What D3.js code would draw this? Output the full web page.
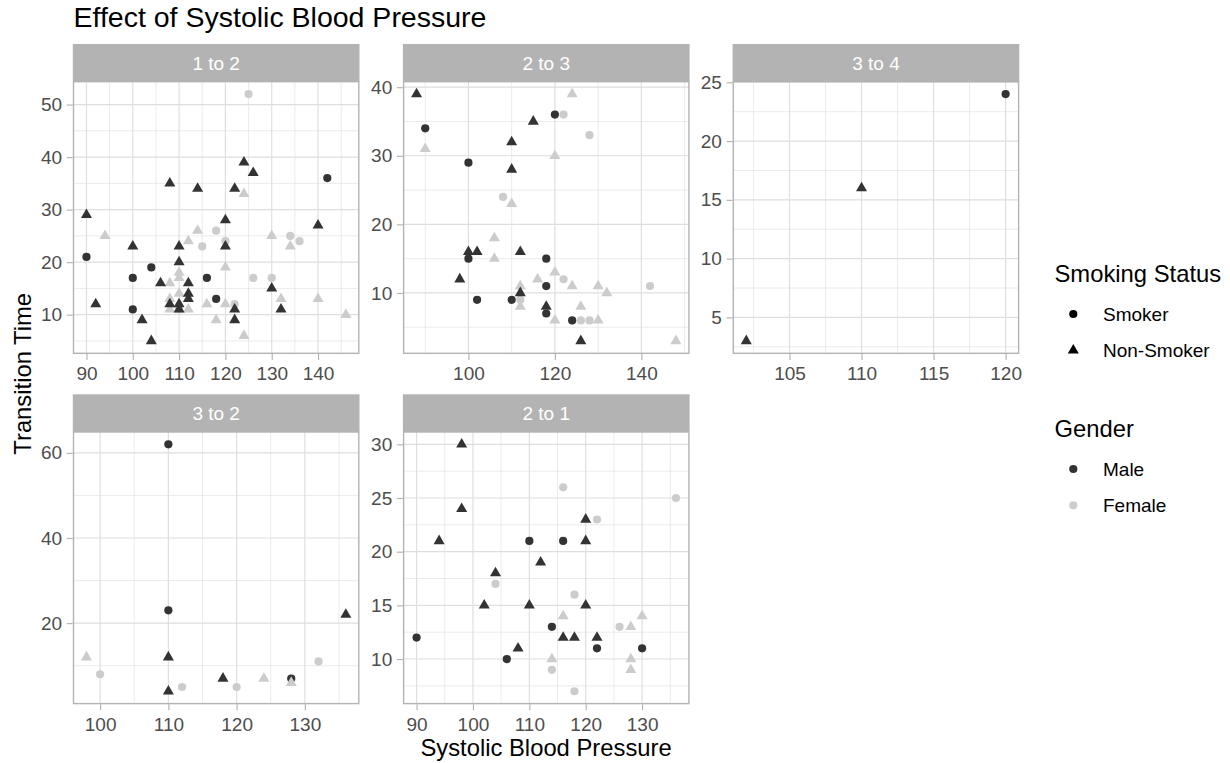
<!DOCTYPE html>
<html>
<head>
<meta charset="utf-8">
<script src="https://cdn.jsdelivr.net/npm/d3@7"></script>
<style>
    body { margin: 0; background: #fff; }
    svg text { font-family: "Liberation Sans", Arial, sans-serif; }
</style>
</head>
<body>
<div id="chart"></div>
<script>
// facet labels, in layout order
const facetNames = ["1 to 2", "2 to 3", "3 to 4", "3 to 2", "2 to 1"];

// each point: [systolic bp, transition time, gender (M/F), smoking (S = Smoker, N = Non-Smoker)]
const trans12 = [
    [94,25,"F","N"],[108,16,"F","N"],[108,13,"F","N"],[108,11,"F","N"],[110,18,"F","N"],[110,17,"F","N"],
    [110,14,"F","N"],[110,11,"F","N"],[112,24,"F","N"],[112,11,"F","N"],[114,26,"F","N"],[116,12,"F","N"],
    [118,9,"F","N"],[120,19,"F","N"],[120,12,"F","N"],[124,33,"F","N"],[124,6,"F","N"],[130,25,"F","N"],
    [132,13,"F","N"],[134,23,"F","N"],[140,13,"F","N"],[146,10,"F","N"],
    [125,52,"F","S"],[118,26,"F","S"],[115,23,"F","S"],[120,24,"F","S"],[126,17,"F","S"],[130,17,"F","S"],
    [134,25,"F","S"],[136,24,"F","S"],[122,12,"F","S"],[110,11,"F","S"],
    [90,29,"M","N"],[92,12,"M","N"],[100,23,"M","N"],[102,9,"M","N"],[104,5,"M","N"],[106,16,"M","N"],
    [108,35,"M","N"],[108,12,"M","N"],[110,23,"M","N"],[110,20,"M","N"],[110,12,"M","N"],[110,11,"M","N"],
    [112,16,"M","N"],[112,14,"M","N"],[112,13,"M","N"],[114,34,"M","N"],[120,28,"M","N"],[120,23,"M","N"],
    [122,34,"M","N"],[122,11,"M","N"],[122,9,"M","N"],[124,39,"M","N"],[126,37,"M","N"],[130,15,"M","N"],
    [132,11,"M","N"],[140,27,"M","N"],
    [90,21,"M","S"],[100,17,"M","S"],[100,11,"M","S"],[104,19,"M","S"],[116,17,"M","S"],[118,13,"M","S"],
    [142,36,"M","S"]
];

const trans23 = [
    [90,31,"F","N"],[124,39,"F","N"],[120,30,"F","N"],[110,23,"F","N"],[106,18,"F","N"],[106,15,"F","N"],
    [112,11,"F","N"],[112,8,"F","N"],[116,12,"F","N"],[120,13,"F","N"],[120,6,"F","N"],[124,11,"F","N"],
    [126,8,"F","N"],[130,11,"F","N"],[132,10,"F","N"],[130,6,"F","N"],[148,3,"F","N"],
    [122,36,"F","S"],[128,33,"F","S"],[108,24,"F","S"],[122,12,"F","S"],[112,9,"F","S"],[126,6,"F","S"],
    [128,6,"F","S"],[142,11,"F","S"],
    [88,39,"M","N"],[110,32,"M","N"],[110,28,"M","N"],[115,35,"M","N"],[100,16,"M","N"],[102,16,"M","N"],
    [112,16,"M","N"],[98,12,"M","N"],[112,10,"M","N"],[118,8,"M","N"],[126,3,"M","N"],
    [90,34,"M","S"],[100,29,"M","S"],[100,15,"M","S"],[120,36,"M","S"],[102,9,"M","S"],[110,9,"M","S"],
    [118,15,"M","S"],[118,11,"M","S"],[118,7,"M","S"],[124,6,"M","S"]
];

const trans34 = [
    [102,3,"M","N"],[110,16,"M","N"],[120,24,"M","S"]
];

const trans32 = [
    [98,12,"F","N"],[100,8,"F","S"],[112,5,"F","S"],[120,5,"F","S"],[124,7,"F","N"],[132,11,"F","S"],
    [110,62,"M","S"],[110,23,"M","S"],[110,12,"M","N"],[110,4,"M","N"],[118,7,"M","N"],[136,22,"M","N"],
    [128,7,"M","S"],[128,6,"F","N"]
];

const trans21 = [
    [116,14,"F","N"],[114,10,"F","N"],[128,13,"F","N"],[128,10,"F","N"],[128,9,"F","N"],[130,14,"F","N"],
    [116,26,"F","S"],[122,23,"F","S"],[136,25,"F","S"],[104,17,"F","S"],[118,16,"F","S"],[114,9,"F","S"],
    [118,7,"F","S"],[126,13,"F","S"],
    [98,30,"M","N"],[98,24,"M","N"],[94,21,"M","N"],[104,18,"M","N"],[102,15,"M","N"],[110,15,"M","N"],
    [112,19,"M","N"],[108,11,"M","N"],[116,12,"M","N"],[118,12,"M","N"],[120,23,"M","N"],[120,21,"M","N"],
    [120,15,"M","N"],[122,12,"M","N"],
    [90,12,"M","S"],[106,10,"M","S"],[110,21,"M","S"],[116,21,"M","S"],[114,13,"M","S"],[122,11,"M","S"],
    [130,11,"M","S"]
];

// tick labels per facet
const xTicks = [
    [90, 100, 110, 120, 130, 140],
    [100, 120, 140],
    [105, 110, 115, 120],
    [100, 110, 120, 130],
    [90, 100, 110, 120, 130]
];
const yTicks = [
    [10, 20, 30, 40, 50],
    [10, 20, 30, 40],
    [5, 10, 15, 20, 25],
    [20, 40, 60],
    [10, 15, 20, 25, 30]
];

const genderLabels = ["Male", "Female"];
const smokingLabels = ["Smoker", "Non-Smoker"];

const facetData = [trans12, trans23, trans34, trans32, trans21];

// layout (px)
const width = 1230, height = 763;
const colLeft = [73.5, 403.6, 733.3];
const rowTop = [44, 394.3];
const panelW = 285.3, stripH = 37.7, plotH = 271.6;
const pointArea = Math.PI * 4.1 * 4.1;

const colorScale = d3.scaleOrdinal().domain(["M", "F"]).range(["#333333", "#cccccc"]);
const shapeScale = d3.scaleOrdinal().domain(["S", "N"]).range([d3.symbolCircle, d3.symbolTriangle]);

const svg = d3.select("#chart").append("svg")
    .attr("width", width)
    .attr("height", height);

// ggplot style 5% expansion of the data range
function expanded(values) {
    const [lo, hi] = d3.extent(values);
    const pad = (hi - lo) * 0.05;
    return [lo - pad, hi + pad];
}

// minor breaks sit halfway between the major ones
function minorTicks(ticks, domain) {
    const step = ticks[1] - ticks[0];
    const out = [];
    ticks.forEach(t => { out.push(t - step / 2); });
    out.push(ticks[ticks.length - 1] + step / 2);
    return out.filter(v => v >= domain[0] && v <= domain[1]);
}

facetNames.forEach((name, i) => {
    const data = facetData[i];
    const left = colLeft[i % 3];
    const top = rowTop[Math.floor(i / 3)];
    const plotTop = top + stripH;
    const plotBottom = plotTop + plotH;

    const xDomain = expanded(data.map(d => d[0]));
    const yDomain = expanded(data.map(d => d[1]));
    const xScale = d3.scaleLinear().domain(xDomain).range([left, left + panelW]);
    const yScale = d3.scaleLinear().domain(yDomain).range([plotBottom, plotTop]);

    const g = svg.append("g").attr("class", "facet");

    g.append("rect")
        .attr("x", left).attr("y", plotTop)
        .attr("width", panelW).attr("height", plotH)
        .attr("fill", "#fff");

    // minor grid
    g.selectAll(".xminor").data(minorTicks(xTicks[i], xDomain)).join("line")
        .attr("x1", d => xScale(d)).attr("x2", d => xScale(d))
        .attr("y1", plotTop).attr("y2", plotBottom)
        .attr("stroke", "#dedede").attr("stroke-width", 0.6);
    g.selectAll(".yminor").data(minorTicks(yTicks[i], yDomain)).join("line")
        .attr("x1", left).attr("x2", left + panelW)
        .attr("y1", d => yScale(d)).attr("y2", d => yScale(d))
        .attr("stroke", "#dedede").attr("stroke-width", 0.6);

    // major grid
    g.selectAll(".xmajor").data(xTicks[i]).join("line")
        .attr("x1", d => xScale(d)).attr("x2", d => xScale(d))
        .attr("y1", plotTop).attr("y2", plotBottom)
        .attr("stroke", "#dedede").attr("stroke-width", 1.15);
    g.selectAll(".ymajor").data(yTicks[i]).join("line")
        .attr("x1", left).attr("x2", left + panelW)
        .attr("y1", d => yScale(d)).attr("y2", d => yScale(d))
        .attr("stroke", "#dedede").attr("stroke-width", 1.15);

    // points
    g.selectAll(".pt").data(data).join("path")
        .attr("class", "pt")
        .attr("transform", d => `translate(${xScale(d[0])},${yScale(d[1])})`)
        .attr("d", d => d3.symbol().type(shapeScale(d[3])).size(pointArea)())
        .attr("fill", d => colorScale(d[2]));

    // panel border
    g.append("rect")
        .attr("x", left).attr("y", plotTop)
        .attr("width", panelW).attr("height", plotH)
        .attr("fill", "none").attr("stroke", "#b3b3b3").attr("stroke-width", 1.4);

    // strip
    g.append("rect")
        .attr("x", left - 0.7).attr("y", top)
        .attr("width", panelW + 1.4).attr("height", stripH)
        .attr("fill", "#b3b3b3");
    g.append("text")
        .attr("x", left + panelW / 2).attr("y", top + stripH / 2 + 6.8)
        .attr("text-anchor", "middle")
        .attr("font-size", "19px")
        .attr("fill", "#fff")
        .text(name);

    // axes
    const xAxis = d3.axisBottom(xScale).tickValues(xTicks[i]).tickSize(6).tickPadding(7).tickSizeOuter(0);
    const yAxis = d3.axisLeft(yScale).tickValues(yTicks[i]).tickSize(6).tickPadding(4.7).tickSizeOuter(0);

    const xAxisG = g.append("g")
        .attr("transform", `translate(0,${plotBottom + 0.7})`)
        .call(xAxis);
    const yAxisG = g.append("g")
        .attr("transform", `translate(${left - 0.7},0)`)
        .call(yAxis);

    [xAxisG, yAxisG].forEach(a => {
        a.select(".domain").remove();
        a.selectAll(".tick line").attr("stroke", "#b3b3b3").attr("stroke-width", 1.15);
        a.selectAll(".tick text")
            .attr("fill", "#4d4d4d")
            .attr("font-size", "19px")
            .attr("font-family", "'Liberation Sans', Arial, sans-serif");
    });
});

// titles
svg.append("text")
    .attr("x", 73.5).attr("y", 26.5)
    .attr("font-size", "28.5px")
    .attr("fill", "#000")
    .text("Effect of Systolic Blood Pressure");

svg.append("text")
    .attr("x", (colLeft[0] + colLeft[2] + panelW) / 2).attr("y", 755.5)
    .attr("text-anchor", "middle")
    .attr("font-size", "23.8px")
    .text("Systolic Blood Pressure");

svg.append("text")
    .attr("transform", `translate(30.5,${(rowTop[0] + rowTop[1] + stripH + plotH) / 2}) rotate(-90)`)
    .attr("text-anchor", "middle")
    .attr("font-size", "23.8px")
    .text("Transition Time");

// legends
const legendX = 1054.5, keyX = 1073.3, labelX = 1103, keyStep = 36.3;

function legend(title, titleY, labels, drawKey) {
    const lg = svg.append("g").attr("class", "legend");
    lg.append("text")
        .attr("x", legendX).attr("y", titleY)
        .attr("font-size", "23.8px")
        .text(title);
    labels.forEach((lab, j) => {
        const cy = titleY + 32.5 + j * keyStep;
        drawKey(lg.append("path").attr("transform", `translate(${keyX},${cy})`), j);
        lg.append("text")
            .attr("x", labelX).attr("y", cy + 7)
            .attr("font-size", "19px")
            .text(lab);
    });
}

legend("Smoking Status", 281.5, smokingLabels, (p, j) => {
    p.attr("d", d3.symbol().type(shapeScale(["S", "N"][j])).size(pointArea)())
        .attr("fill", "#000");
});

legend("Gender", 436.5, genderLabels, (p, j) => {
    p.attr("d", d3.symbol().type(d3.symbolCircle).size(pointArea)())
        .attr("fill", colorScale(["M", "F"][j]));
});
</script>
</body>
</html>
